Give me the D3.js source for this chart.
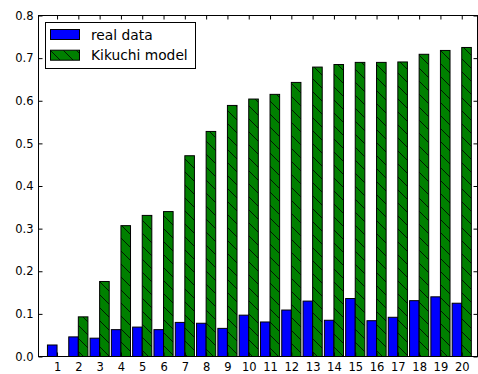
<!DOCTYPE html>
<html>
<head>
<meta charset="UTF-8">
<style>
  body { margin: 0; background: #fff; }
  svg text { font-family: 'DejaVu Sans', sans-serif; fill: #000; }
</style>
</head>
<body>
<div id="chart"></div>
<script src="https://cdnjs.cloudflare.com/ajax/libs/d3/7.8.5/d3.min.js"></script>
<script>
// chart data
const categories = d3.range(1, 21);
const realData = [0.027, 0.046, 0.043, 0.063, 0.069, 0.063, 0.080, 0.078, 0.066, 0.097,
                  0.081, 0.109, 0.130, 0.085, 0.136, 0.084, 0.092, 0.131, 0.140, 0.125];
const kikuchi = [0.0, 0.093, 0.176, 0.307, 0.331, 0.340, 0.471, 0.528, 0.589, 0.604,
                 0.615, 0.643, 0.679, 0.685, 0.690, 0.690, 0.691, 0.709, 0.718, 0.725];
const yTicks = [0.0, 0.1, 0.2, 0.3, 0.4, 0.5, 0.6, 0.7, 0.8];
const barWidth = 0.45;

const W = 478, H = 374;
const svg = d3.select("#chart").append("svg")
  .attr("width", W).attr("height", H);

const x = d3.scaleLinear().domain([0.13, 20.74]).range([38.5, 477.5]);
const y = d3.scaleLinear().domain([0, 0.8]).range([356.5, 15.5]);

// hatch pattern for the model bars
const defs = svg.append("defs");
const s = 13;
const pat = defs.append("pattern")
  .attr("id", "hatch")
  .attr("patternUnits", "userSpaceOnUse")
  .attr("width", s).attr("height", s);
pat.append("rect").attr("width", s).attr("height", s).attr("fill", "#008000");
pat.append("path")
  .attr("d", `M0,0L${s},${s}M${-s/2},${s/2}L${s/2},${s*1.5}M${s/2},${-s/2}L${s*1.5},${s/2}`)
  .attr("stroke", "#000").attr("stroke-width", 0.8);

const g = svg.append("g");

// blue bars (left of tick)
g.selectAll(".real").data(categories).enter().append("rect")
  .attr("class", "real")
  .attr("x", d => x(d - barWidth))
  .attr("width", d => x(d) - x(d - barWidth))
  .attr("y", (d, i) => y(realData[i]))
  .attr("height", (d, i) => y(0) - y(realData[i]))
  .attr("fill", "#0000ff")
  .attr("stroke", "#000").attr("stroke-width", 1);

// green hatched bars (right of tick)
g.selectAll(".model").data(categories).enter().append("rect")
  .attr("class", "model")
  .attr("x", d => x(d))
  .attr("width", d => x(d + barWidth) - x(d))
  .attr("y", (d, i) => y(kikuchi[i]))
  .attr("height", (d, i) => y(0) - y(kikuchi[i]))
  .attr("fill", "url(#hatch)")
  .attr("stroke", "#000").attr("stroke-width", 1);

// axes (ticks inside, on all four sides)
const tl = 4;
svg.append("g").attr("transform", `translate(0,${y(0)})`)
  .call(d3.axisBottom(x).tickValues(categories).tickSize(-tl).tickPadding(6.5).tickFormat(d3.format("d")))
  .call(a => a.select(".domain").remove());
svg.append("g").attr("transform", `translate(0,${y(0.8)})`)
  .call(d3.axisTop(x).tickValues(categories).tickSize(-tl).tickFormat(""))
  .call(a => a.select(".domain").remove());
svg.append("g").attr("transform", `translate(${x.range()[0]},0)`)
  .call(d3.axisLeft(y).tickValues(yTicks).tickSize(-tl).tickPadding(5).tickFormat(d3.format(".1f")))
  .call(a => a.select(".domain").remove());
svg.append("g").attr("transform", `translate(${x.range()[1]},0)`)
  .call(d3.axisRight(y).tickValues(yTicks).tickSize(-tl).tickFormat(""))
  .call(a => a.select(".domain").remove());
svg.selectAll(".tick line").attr("stroke", "#000");
svg.selectAll(".tick text").style("font-size", "11.5px").attr("fill", "#000");

// frame
svg.append("rect")
  .attr("x", x.range()[0]).attr("y", y(0.8))
  .attr("width", x.range()[1] - x.range()[0])
  .attr("height", y(0) - y(0.8))
  .attr("fill", "none").attr("stroke", "#000").attr("stroke-width", 1);

// legend
const legend = svg.append("g");
legend.append("rect")
  .attr("x", 45.5).attr("y", 22.5).attr("width", 150).attr("height", 46)
  .attr("fill", "#fff").attr("stroke", "#000").attr("stroke-width", 1);
const items = [{ label: "real data", fill: "#0000ff" }, { label: "Kikuchi model", fill: "url(#hatch)" }];
items.forEach((d, i) => {
  legend.append("rect")
    .attr("x", 50.5).attr("y", 29.5 + i * 20.7).attr("width", 29).attr("height", 10)
    .attr("fill", d.fill).attr("stroke", "#000").attr("stroke-width", 1);
  legend.append("text")
    .attr("x", 91).attr("y", 39.5 + i * 20.7)
    .style("font-size", "13.8px")
    .text(d.label);
});
</script>
</body>
</html>
